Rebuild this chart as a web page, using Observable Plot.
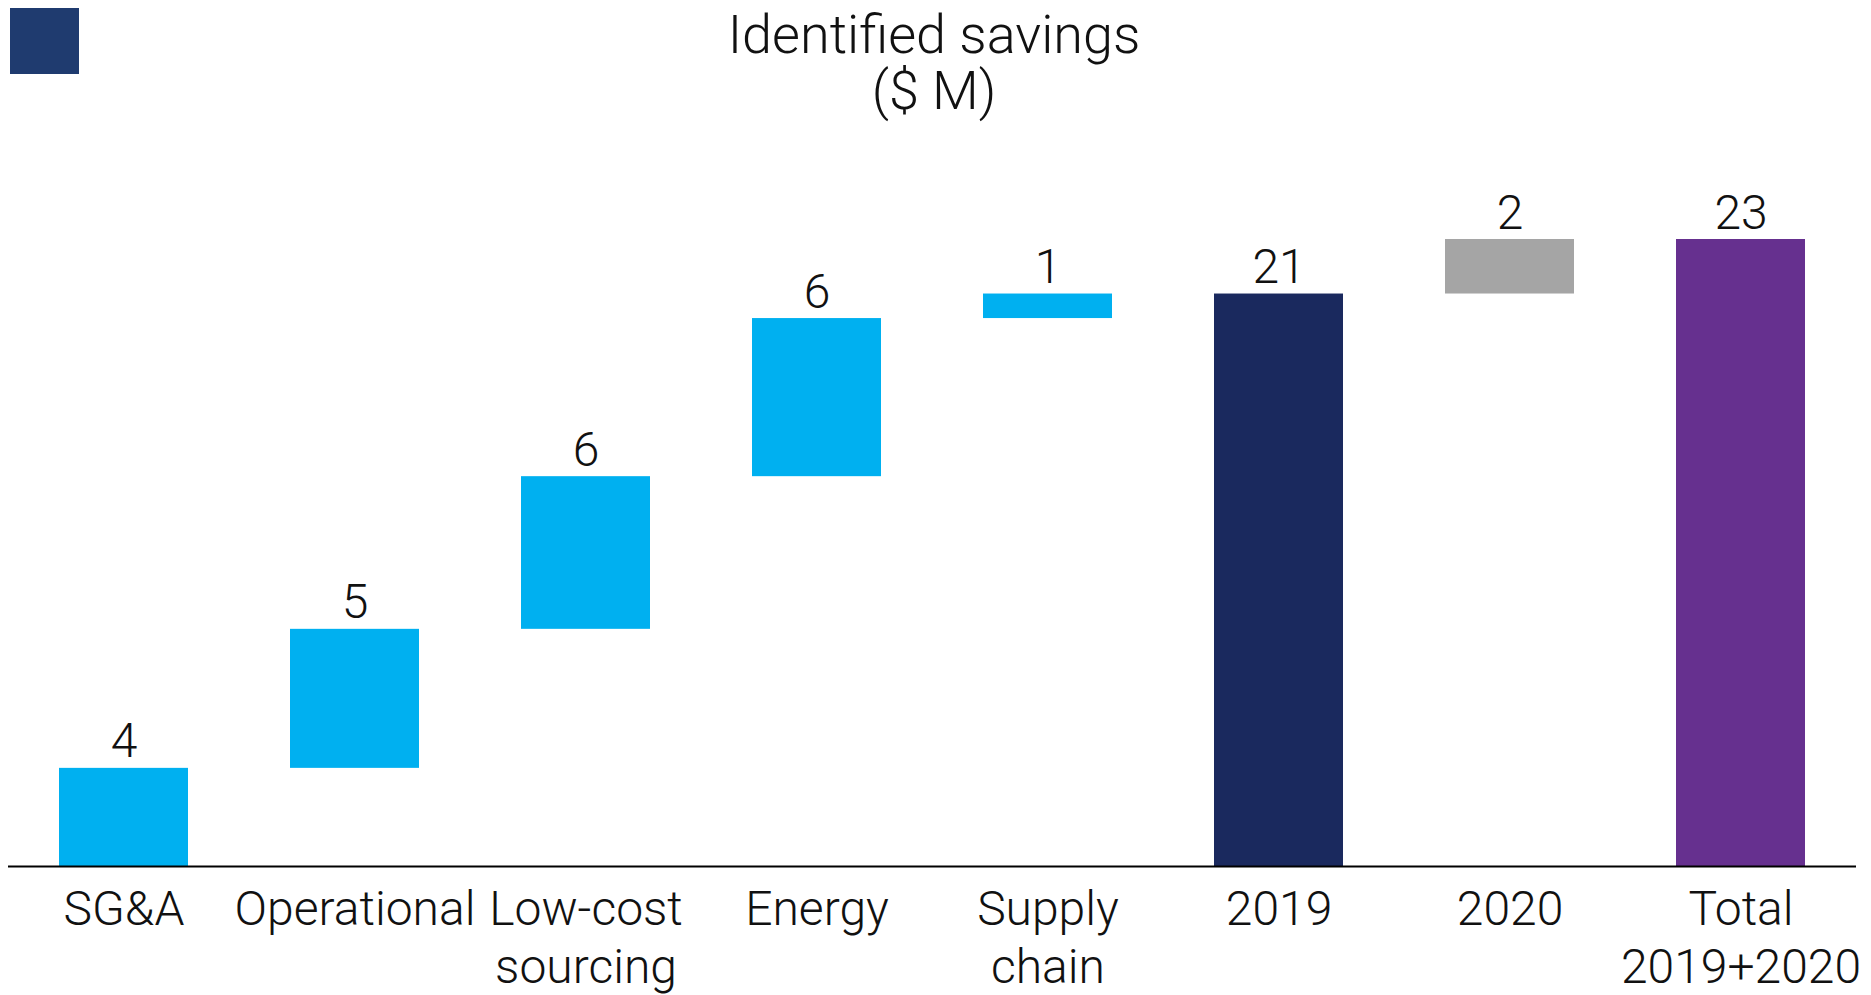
<!DOCTYPE html>
<html>
<head>
<meta charset="utf-8">
<script src="https://cdn.jsdelivr.net/npm/d3@7"></script>
<script src="https://cdn.jsdelivr.net/npm/@observablehq/plot@0.6"></script>
<style>
  html, body { margin: 0; padding: 0; background: #fff; }
  #wrap { position: relative; width: 1871px; height: 995px; font-family: Roboto, "Noto Sans", sans-serif; }
  #square { position: absolute; left: 10px; top: 8px; width: 69px; height: 66px; background: #1F3B6F; }
  .title { position: absolute; left: 0; width: 1868px; text-align: center; font-size: 54px; line-height: 54px; font-weight: 300; color: #111; }
  #t1 { top: 8px; }
  #t2 { top: 64px; }
  #chart { position: absolute; left: 0; top: 0; }
</style>
</head>
<body>
<div id="wrap">
  <div id="chart"></div>
  <div id="square"></div>
  <div class="title" id="t1">Identified savings</div>
  <div class="title" id="t2">($ M)</div>
</div>
<script>
const categories = ["SG&A", "Operational", "Low-cost\nsourcing", "Energy", "Supply\nchain", "2019", "2020", "Total\n2019+2020"];
const values = [3.6, 5.1, 5.6, 5.8, 0.9, 21.0, 2.0, 23.0];
const kinds = ["step", "step", "step", "step", "step", "subtotal", "step", "total"];
const colors = ["#00B0F0", "#00B0F0", "#00B0F0", "#00B0F0", "#00B0F0", "#1A295E", "#A5A5A5", "#66308F"];

let running = 0;
const data = categories.map((c, i) => {
  let y1, y2;
  if (kinds[i] === "step") { y1 = running; y2 = running + values[i]; running = y2; }
  else { y1 = 0; y2 = values[i]; running = values[i]; }
  return { category: c, value: values[i], y1, y2, color: colors[i] };
});

const fmt = d3.format(".0f");

const chart = Plot.plot({
  width: 1871,
  height: 995,
  marginLeft: 8,
  marginRight: 15,
  marginTop: 239,
  marginBottom: 129,
  style: { fontFamily: "Roboto, 'Noto Sans', sans-serif", fontWeight: 300, color: "#111", background: "transparent" },
  x: { domain: categories, paddingInner: 0.4416, paddingOuter: 0.2208, align: 0.5 },
  y: { domain: [0, 23], axis: null },
  marks: [
    Plot.barY(data, { x: "category", y1: "y1", y2: "y2", fill: "color" }),
    Plot.ruleY([0], { stroke: "#000", strokeWidth: 2 }),
    Plot.text(data, { x: "category", y: "y2", text: d => fmt(d.value), dy: -11, lineAnchor: "bottom", fontSize: 48, fill: "#111" }),
    Plot.axisX({ tickSize: 0, tickPadding: 18, fontSize: 48, lineHeight: 1.2, label: null, fill: "#111" })
  ]
});
document.getElementById("chart").appendChild(chart);
</script>
</body>
</html>
